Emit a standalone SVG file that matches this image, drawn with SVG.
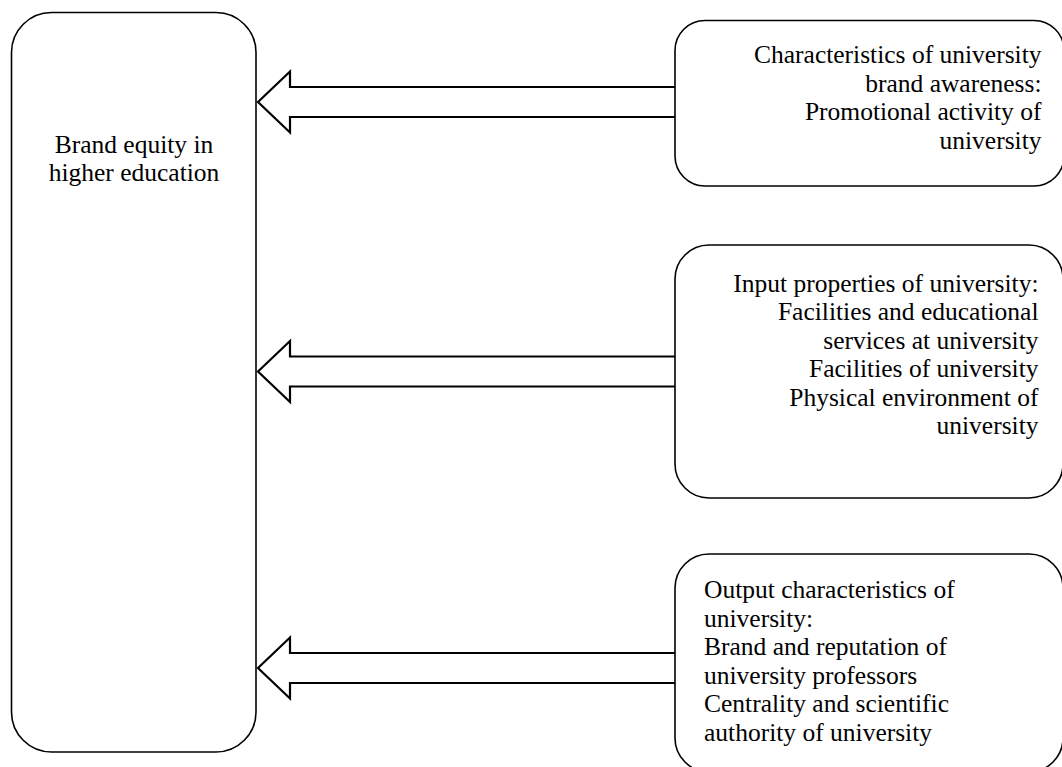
<svg xmlns="http://www.w3.org/2000/svg" width="1062" height="767" viewBox="0 0 1062 767">
<style>
.box{fill:#fff;stroke:#000;stroke-width:1.6}
.arr{fill:#fff;stroke:#000;stroke-width:2.2;stroke-linejoin:miter}
text{font-family:"Liberation Serif","Times New Roman",serif;font-size:25.5px;fill:#000}
.r{text-anchor:end}
.m{text-anchor:middle}
</style>
<rect width="1062" height="767" fill="#fff"/>
<g id="connectors">
<polygon class="arr" points="258,102 290,71.5 290,87 677,87 677,117 290,117 290,132.5"/>
<polygon class="arr" points="258,371.5 290,341 290,356.5 677,356.5 677,386.5 290,386.5 290,402"/>
<polygon class="arr" points="258,668 290,637.5 290,653 677,653 677,683 290,683 290,698.5"/>
</g>
<g id="brand-equity">
<rect class="box" x="11.5" y="12.5" width="244.5" height="739.5" rx="40" ry="40"/>
<text class="m" x="134" y="152.5">Brand equity in</text>
<text class="m" x="134" y="181">higher education</text>
</g>
<g id="awareness">
<rect class="box" x="675" y="20.5" width="389" height="165.5" rx="30" ry="30"/>
<text class="r" x="1041.5" y="63">Characteristics of university</text>
<text class="r" x="1041.5" y="91.5">brand awareness:</text>
<text class="r" x="1041.5" y="120">Promotional activity of</text>
<text class="r" x="1041.5" y="148.5">university</text>
</g>
<g id="input">
<rect class="box" x="675" y="245" width="388" height="253" rx="34" ry="34"/>
<text class="r" x="1038.5" y="291.5">Input properties of university:</text>
<text class="r" x="1038.5" y="320">Facilities and educational</text>
<text class="r" x="1038.5" y="348.5">services at university</text>
<text class="r" x="1038.5" y="377">Facilities of university</text>
<text class="r" x="1038.5" y="405.5">Physical environment of</text>
<text class="r" x="1038.5" y="434">university</text>
</g>
<g id="output">
<rect class="box" x="675" y="554" width="388" height="218" rx="34" ry="34"/>
<text x="704" y="598">Output characteristics of</text>
<text x="704" y="626.5">university:</text>
<text x="704" y="655">Brand and reputation of</text>
<text x="704" y="683.5">university professors</text>
<text x="704" y="712">Centrality and scientific</text>
<text x="704" y="740.5">authority of university</text>
</g>
</svg>
